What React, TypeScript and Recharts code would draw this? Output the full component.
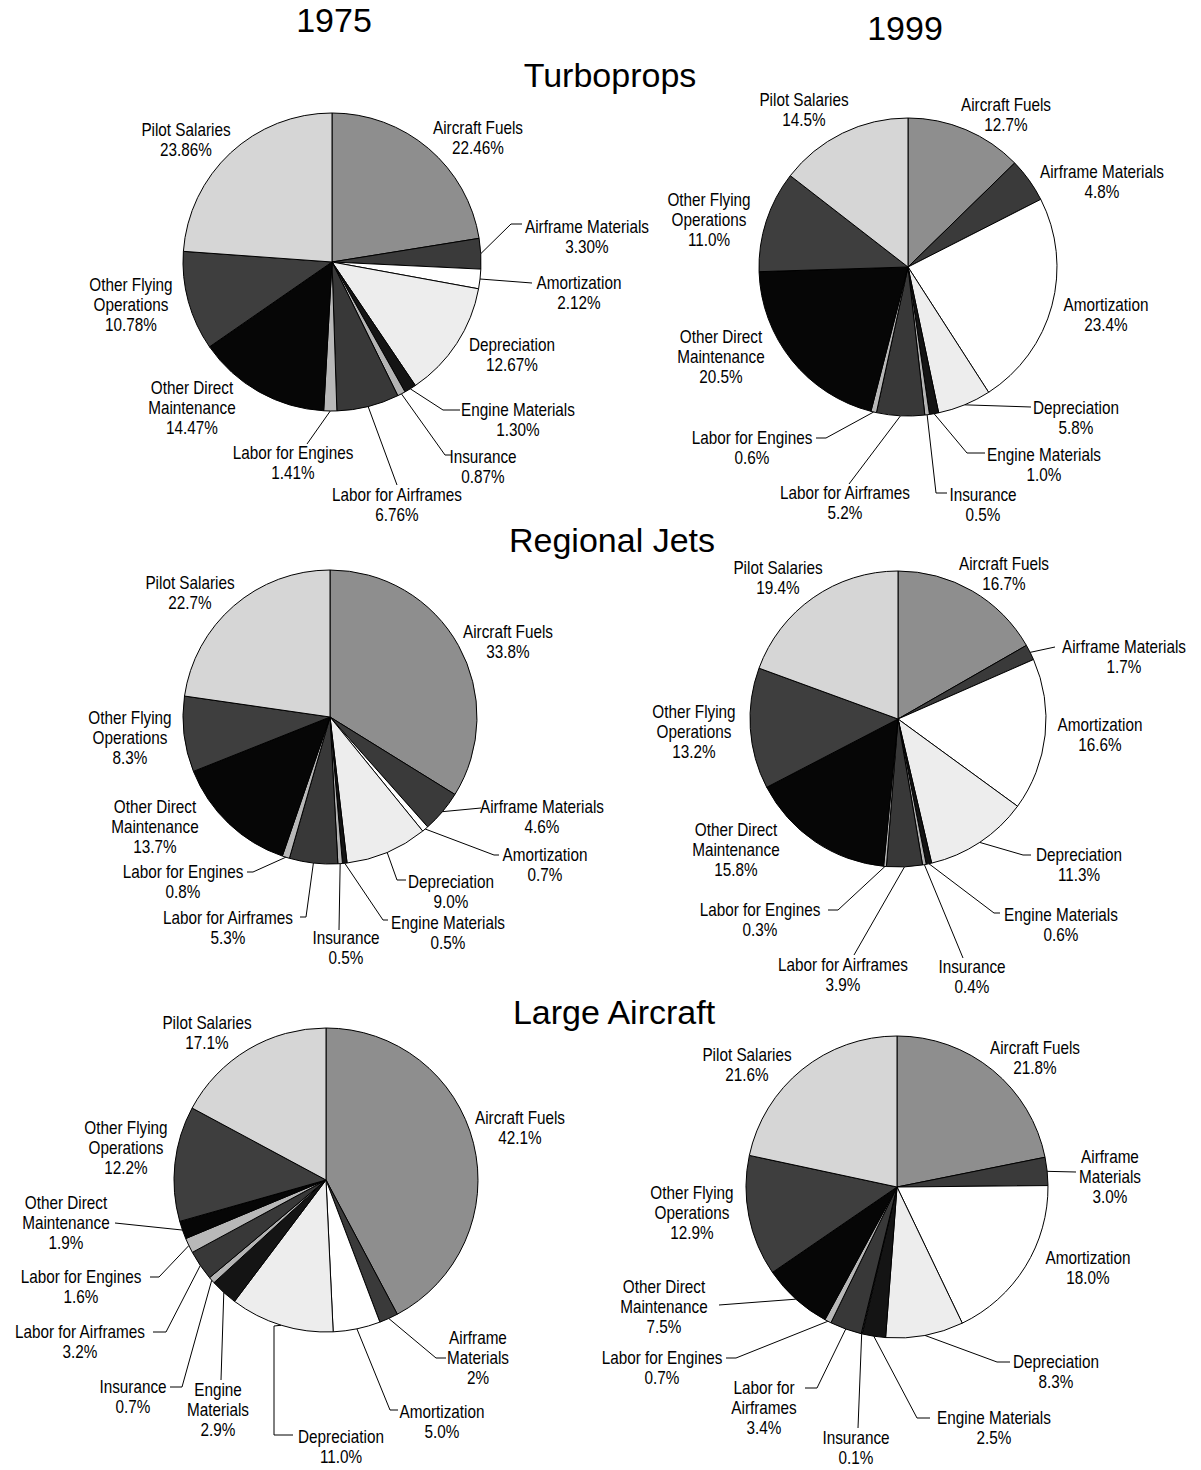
import { PieChart, Pie, Cell } from 'recharts';

// cost categories, clockwise from 12 o'clock
const categories = [
  'Aircraft Fuels', 'Airframe Materials', 'Amortization', 'Depreciation',
  'Engine Materials', 'Insurance', 'Labor for Airframes', 'Labor for Engines',
  'Other Direct Maintenance', 'Other Flying Operations', 'Pilot Salaries',
];

const turboprops1975 = [22.46, 3.30, 2.12, 12.67, 1.30, 0.87, 6.76, 1.41, 14.47, 10.78, 23.86];
const turboprops1975Pct = ['22.46%', '3.30%', '2.12%', '12.67%', '1.30%', '0.87%', '6.76%', '1.41%', '14.47%', '10.78%', '23.86%'];

const turboprops1999 = [12.7, 4.8, 23.4, 5.8, 1.0, 0.5, 5.2, 0.6, 20.5, 11.0, 14.5];
const turboprops1999Pct = ['12.7%', '4.8%', '23.4%', '5.8%', '1.0%', '0.5%', '5.2%', '0.6%', '20.5%', '11.0%', '14.5%'];

const regional1975 = [33.8, 4.6, 0.7, 9.0, 0.5, 0.5, 5.3, 0.8, 13.7, 8.3, 22.7];
const regional1975Pct = ['33.8%', '4.6%', '0.7%', '9.0%', '0.5%', '0.5%', '5.3%', '0.8%', '13.7%', '8.3%', '22.7%'];

const regional1999 = [16.7, 1.7, 16.6, 11.3, 0.6, 0.4, 3.9, 0.3, 15.8, 13.2, 19.4];
const regional1999Pct = ['16.7%', '1.7%', '16.6%', '11.3%', '0.6%', '0.4%', '3.9%', '0.3%', '15.8%', '13.2%', '19.4%'];

const large1975 = [42.1, 2, 5.0, 11.0, 2.9, 0.7, 3.2, 1.6, 1.9, 12.2, 17.1];
const large1975Pct = ['42.1%', '2%', '5.0%', '11.0%', '2.9%', '0.7%', '3.2%', '1.6%', '1.9%', '12.2%', '17.1%'];

const large1999 = [21.8, 3.0, 18.0, 8.3, 2.5, 0.1, 3.4, 0.7, 7.5, 12.9, 21.6];
const large1999Pct = ['21.8%', '3.0%', '18.0%', '8.3%', '2.5%', '0.1%', '3.4%', '0.7%', '7.5%', '12.9%', '21.6%'];

const sliceColors = [
  '#8e8e8e', '#3a3a3a', '#ffffff', '#ededed', '#141414', '#b4b4b4',
  '#383838', '#b8b8b8', '#060606', '#3e3e3e', '#d6d6d6',
];

const nameLines = [
  ['Aircraft Fuels'], ['Airframe Materials'], ['Amortization'], ['Depreciation'],
  ['Engine Materials'], ['Insurance'], ['Labor for Airframes'], ['Labor for Engines'],
  ['Other Direct', 'Maintenance'], ['Other Flying', 'Operations'], ['Pilot Salaries'],
];

const labelFont = "'Liberation Sans', Arial, Helvetica, sans-serif";
const titleFont = "'Liberation Sans', Arial, Helvetica, sans-serif";
const squeeze = 0.85; // the original uses a condensed Helvetica

type Spot = { x: number; y: number; path?: number[][] };

// label placement (page px): first text line centre, leader line bend points
const tp75Spots: Spot[] = [
  { x: 478, y: 128 },
  { x: 587, y: 227, path: [[511, 224], [522, 224]] },
  { x: 579, y: 283, path: [[532, 283]] },
  { x: 512, y: 345 },
  { x: 518, y: 410, path: [[443, 410], [460, 410]] },
  { x: 483, y: 457, path: [[445, 455], [452, 455]] },
  { x: 397, y: 495, path: [[397, 485]] },
  { x: 293, y: 453, path: [[307, 444]] },
  { x: 192, y: 388 },
  { x: 131, y: 285 },
  { x: 186, y: 130 },
];

const tp99Spots: Spot[] = [
  { x: 1006, y: 105 },
  { x: 1102, y: 172 },
  { x: 1106, y: 305 },
  { x: 1076, y: 408, path: [[1031, 407]] },
  { x: 1044, y: 455, path: [[967, 453], [985, 453]] },
  { x: 983, y: 495, path: [[936, 493], [947, 493]] },
  { x: 845, y: 493, path: [[849, 484]] },
  { x: 752, y: 438, path: [[826, 438], [816, 438]] },
  { x: 721, y: 337 },
  { x: 709, y: 200 },
  { x: 804, y: 100 },
];

const rj75Spots: Spot[] = [
  { x: 508, y: 632 },
  { x: 542, y: 807, path: [[481, 808]] },
  { x: 545, y: 855, path: [[494, 855], [499, 855]] },
  { x: 451, y: 882, path: [[397, 880], [406, 880]] },
  { x: 448, y: 923, path: [[383, 920], [388, 920]] },
  { x: 346, y: 938, path: [[339, 930]] },
  { x: 228, y: 918, path: [[306, 917], [300, 917]] },
  { x: 183, y: 872, path: [[253, 872], [247, 872]] },
  { x: 155, y: 807 },
  { x: 130, y: 718 },
  { x: 190, y: 583 },
];

const rj99Spots: Spot[] = [
  { x: 1004, y: 564 },
  { x: 1124, y: 647, path: [[1055, 647]] },
  { x: 1100, y: 725 },
  { x: 1079, y: 855, path: [[1023, 855], [1031, 855]] },
  { x: 1061, y: 915, path: [[994, 913], [1000, 913]] },
  { x: 972, y: 967, path: [[963, 958]] },
  { x: 843, y: 965, path: [[854, 955]] },
  { x: 760, y: 910, path: [[838, 910], [828, 910]] },
  { x: 736, y: 830 },
  { x: 694, y: 712 },
  { x: 778, y: 568 },
];

const la75Spots: Spot[] = [
  { x: 520, y: 1118 },
  { x: 478, y: 1338, path: [[436, 1358], [446, 1358]] },
  { x: 442, y: 1412, path: [[390, 1410], [398, 1410]] },
  { x: 341, y: 1437, path: [[274, 1326], [274, 1435], [293, 1435]] },
  { x: 218, y: 1390, path: [[221, 1380]] },
  { x: 133, y: 1387, path: [[182, 1387], [170, 1387]] },
  { x: 80, y: 1332, path: [[166, 1332], [153, 1332]] },
  { x: 81, y: 1277, path: [[159, 1277], [150, 1277]] },
  { x: 66, y: 1203, path: [[115, 1223]] },
  { x: 126, y: 1128 },
  { x: 207, y: 1023 },
];

const la99Spots: Spot[] = [
  { x: 1035, y: 1048 },
  { x: 1110, y: 1157, path: [[1076, 1172]] },
  { x: 1088, y: 1258 },
  { x: 1056, y: 1362, path: [[997, 1362], [1010, 1362]] },
  { x: 994, y: 1418, path: [[917, 1418], [930, 1418]] },
  { x: 856, y: 1438, path: [[858, 1428]] },
  { x: 764, y: 1388, path: [[817, 1388], [805, 1388]] },
  { x: 662, y: 1358, path: [[736, 1358], [726, 1358]] },
  { x: 664, y: 1287, path: [[719, 1305]] },
  { x: 692, y: 1193 },
  { x: 747, y: 1055 },
];

const pies = [
  { id: 'tp75', values: turboprops1975, pct: turboprops1975Pct, cx: 332, cy: 262, r: 149, spots: tp75Spots, wrap: {} },
  { id: 'tp99', values: turboprops1999, pct: turboprops1999Pct, cx: 908, cy: 267, r: 149, spots: tp99Spots, wrap: {} },
  { id: 'rj75', values: regional1975, pct: regional1975Pct, cx: 330, cy: 717, r: 147, spots: rj75Spots, wrap: {} },
  { id: 'rj99', values: regional1999, pct: regional1999Pct, cx: 898, cy: 719, r: 148, spots: rj99Spots, wrap: {} },
  {
    id: 'la75', values: large1975, pct: large1975Pct, cx: 326, cy: 1180, r: 152, spots: la75Spots,
    wrap: { 1: ['Airframe', 'Materials'], 4: ['Engine', 'Materials'] } as Record<number, string[]>,
  },
  {
    id: 'la99', values: large1999, pct: large1999Pct, cx: 897, cy: 1187, r: 151, spots: la99Spots,
    wrap: { 1: ['Airframe', 'Materials'], 6: ['Labor for', 'Airframes'] } as Record<number, string[]>,
  },
];

const titles = [
  { text: '1975', x: 334, y: 20 },
  { text: '1999', x: 905, y: 28 },
  { text: 'Turboprops', x: 610, y: 75 },
  { text: 'Regional Jets', x: 612, y: 540 },
  { text: 'Large Aircraft', x: 614, y: 1012 },
];

const RAD = Math.PI / 180;

function makeLabel(pie: any) {
  return (props: any) => {
    const { cx, cy, midAngle, outerRadius, index } = props;
    const spot: Spot = pie.spots[index];
    const lines = [...((pie.wrap as Record<number, string[]>)[index] ?? nameLines[index]), pie.pct[index]];
    const sx = cx + outerRadius * Math.cos(-midAngle * RAD);
    const sy = cy + outerRadius * Math.sin(-midAngle * RAD);
    return (
      <g key={`${pie.id}-lbl-${index}`}>
        {spot.path && (
          <polyline
            points={[[sx, sy], ...spot.path].map((p) => p.join(',')).join(' ')}
            fill="none"
            stroke="#000"
            strokeWidth={1}
          />
        )}
        <text
          textAnchor="middle"
          fontFamily={labelFont}
          fontSize={18}
          fill="#000"
          transform={`matrix(${squeeze} 0 0 1 ${spot.x * (1 - squeeze)} 0)`}
        >
          {lines.map((line, i) => (
            <tspan key={i} x={spot.x} y={spot.y + 6 + i * 20}>{line}</tspan>
          ))}
        </text>
      </g>
    );
  };
}

export default function App() {
  return (
    <div style={{ position: 'absolute', left: 0, top: 0, width: 1201, height: 1470, background: '#fff' }}>
      <PieChart width={1201} height={1470} margin={{ top: 0, right: 0, bottom: 0, left: 0 }}>
        {pies.map((pie) => (
          <Pie
            key={pie.id}
            data={pie.values.map((v, i) => ({ name: categories[i], value: v }))}
            dataKey="value"
            nameKey="name"
            cx={pie.cx}
            cy={pie.cy}
            innerRadius={0}
            outerRadius={pie.r}
            startAngle={90}
            endAngle={-270}
            stroke="#000"
            strokeWidth={1}
            isAnimationActive={false}
            labelLine={false}
            label={makeLabel(pie)}
          >
            {pie.values.map((_, i) => (
              <Cell key={i} fill={sliceColors[i]} />
            ))}
          </Pie>
        ))}
      </PieChart>
      {titles.map((t) => (
        <div
          key={t.text}
          style={{
            position: 'absolute',
            left: t.x,
            top: t.y,
            transform: 'translate(-50%, -50%)',
            fontFamily: titleFont,
            fontSize: 34,
            whiteSpace: 'nowrap',
            color: '#000',
          }}
        >
          {t.text}
        </div>
      ))}
    </div>
  );
}
